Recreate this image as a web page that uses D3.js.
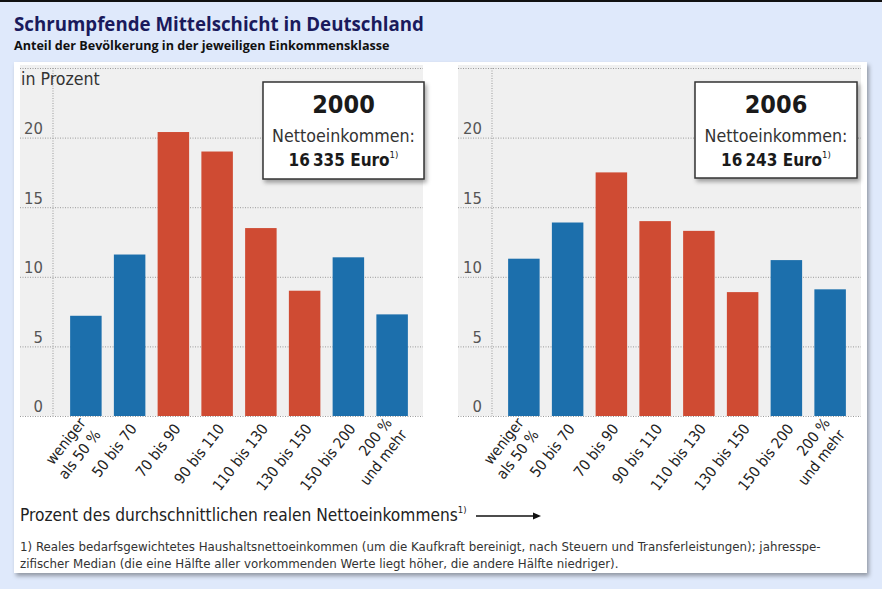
<!DOCTYPE html>
<html>
<head>
<meta charset="utf-8">
<script src="https://cdn.jsdelivr.net/npm/d3@7"></script>
<style>
  body { margin: 0; background: #dfe9fb; }
  svg { display: block; }
  .cond { font-family: "DejaVu Sans Condensed", "Liberation Sans Narrow", sans-serif; }
</style>
</head>
<body>
<div id="chart"></div>
<script>
// Einkommensklassen (Prozent des durchschnittlichen realen Nettoeinkommens)
var categories = [["weniger", "als 50 %"], ["50 bis 70"], ["70 bis 90"], ["90 bis 110"],
                  ["110 bis 130"], ["130 bis 150"], ["150 bis 200"], ["200 %", "und mehr"]];
var middleClass = [false, false, true, true, true, true, false, false];
var values2000 = [7.2, 11.6, 20.4, 19.0, 13.5, 9.0, 11.4, 7.3];
var values2006 = [11.3, 13.9, 17.5, 14.0, 13.3, 8.9, 11.2, 9.1];
var years = ["2000", "2006"];
var incomes = ["16\u2009335", "16\u2009243"];
var yTicks = [0, 5, 10, 15, 20];

var W = 882, H = 589;
var blue = "#1c6fac", red = "#cf4b33";

var svg = d3.select("#chart").append("svg")
    .attr("width", W).attr("height", H);

var defs = svg.append("defs");
var f = defs.append("filter").attr("id", "shadow")
    .attr("x", "-5%").attr("y", "-5%").attr("width", "115%").attr("height", "115%");
f.append("feDropShadow").attr("dx", 2).attr("dy", 3).attr("stdDeviation", 2)
    .attr("flood-color", "#000").attr("flood-opacity", 0.35);

// hintergrund + oberer rand
svg.append("rect").attr("width", W).attr("height", H).attr("fill", "#dfe9fb");
svg.append("rect").attr("width", W).attr("height", 2).attr("fill", "#111");

// titel
svg.append("text").attr("x", 14).attr("y", 31)
    .attr("font-family", "'Open Sans', sans-serif").attr("font-weight", "bold")
    .attr("font-size", 18.7).attr("fill", "#1a1a5c")
    .text("Schrumpfende Mittelschicht in Deutschland");
svg.append("text").attr("x", 14).attr("y", 50)
    .attr("font-family", "'Open Sans', sans-serif").attr("font-weight", "bold")
    .attr("font-size", 12.6).attr("fill", "#111")
    .text("Anteil der Bevölkerung in der jeweiligen Einkommensklasse");

// weisses panel
svg.append("rect").attr("x", 14).attr("y", 62).attr("width", 853).attr("height", 511)
    .attr("fill", "#fff").attr("filter", "url(#shadow)");

var y = d3.scaleLinear().domain([0, 25]).range([416, 68]);

function drawPanel(opts) {
    var g = svg.append("g").attr("class", "cond");
    var x = d3.scaleBand().domain(d3.range(categories.length))
        .range([opts.x0, opts.x1]).paddingInner(0.28).paddingOuter(0.14);

    g.append("rect").attr("x", opts.bgL).attr("y", 65)
        .attr("width", opts.bgR - opts.bgL).attr("height", y(0) - 65)
        .attr("fill", "#f0f0f0");

    // gitterlinien
    g.selectAll("line.grid").data(yTicks.concat([25])).enter().append("line")
        .attr("class", "grid")
        .attr("x1", opts.bgL).attr("x2", opts.bgR)
        .attr("y1", function(d) { return y(d) + 0.5; })
        .attr("y2", function(d) { return y(d) + 0.5; })
        .attr("stroke", "#9a9a9a").attr("stroke-width", 1).attr("stroke-dasharray", "1,1.5");
    g.append("line").attr("x1", opts.axisX).attr("x2", opts.axisX)
        .attr("y1", y(25)).attr("y2", y(0))
        .attr("stroke", "#9a9a9a").attr("stroke-dasharray", "1,1.5");

    var axis = g.append("g").attr("transform", "translate(" + opts.labelX + ",0)")
        .call(d3.axisLeft(y).tickValues(yTicks).tickSize(0).tickPadding(0));
    axis.select(".domain").remove();
    axis.selectAll("text")
        .attr("font-family", "'DejaVu Sans Condensed', 'Liberation Sans Narrow', sans-serif")
        .attr("font-size", 16.5).attr("fill", "#555").attr("dy", "-0.25em");

    g.selectAll("rect.bar").data(opts.values).enter().append("rect")
        .attr("class", "bar")
        .attr("x", function(d, i) { return x(i); })
        .attr("width", x.bandwidth())
        .attr("y", function(d) { return y(d); })
        .attr("height", function(d) { return y(0) - y(d); })
        .attr("fill", function(d, i) { return middleClass[i] ? red : blue; });

    // x-beschriftung, gedreht
    var lbl = g.selectAll("g.xl").data(categories).enter().append("g")
        .attr("class", "xl")
        .attr("transform", function(d, i) {
            return "translate(" + (x(i) + x.bandwidth() / 2 + 4) + ",426) rotate(-52)";
        });
    lbl.each(function(d) {
        var t = d3.select(this).append("text")
            .attr("text-anchor", "end").attr("font-size", 15).attr("fill", "#222");
        var n = d.length;
        d.forEach(function(s, k) {
            t.append("tspan").attr("x", 0)
                .attr("y", (k - (n - 1) / 2) * 19 + 5)
                .text(s);
        });
    });

    // info box
    var b = g.append("g");
    b.append("rect").attr("x", opts.box[0]).attr("y", opts.box[1])
        .attr("width", opts.box[2]).attr("height", opts.box[3])
        .attr("fill", "#fff").attr("stroke", "#333").attr("stroke-width", 1.5)
        .attr("filter", "url(#shadow)");
    var cx = opts.box[0] + opts.box[2] / 2;
    b.append("text").attr("x", cx).attr("y", opts.box[1] + 31).attr("text-anchor", "middle")
        .attr("font-size", 25).attr("font-weight", "bold").attr("fill", "#1a1a1a").text(opts.year);
    b.append("text").attr("x", cx).attr("y", opts.box[1] + 60).attr("text-anchor", "middle")
        .attr("font-size", 17.7).attr("fill", "#333").text("Nettoeinkommen:");
    var e = b.append("text").attr("x", cx).attr("y", opts.box[1] + 84).attr("text-anchor", "middle")
        .attr("font-size", 17).attr("font-weight", "bold").attr("fill", "#1a1a1a");
    e.append("tspan").text(opts.income + " Euro");
    e.append("tspan").attr("font-size", 9.5).attr("font-weight", "normal")
        .attr("dy", -8).text("1)");
}

drawPanel({ values: values2000, year: years[0], income: incomes[0],
            x0: 64, x1: 414, bgL: 20, bgR: 423, axisX: 53, labelX: 43,
            box: [263, 82, 161, 97] });
drawPanel({ values: values2006, year: years[1], income: incomes[1],
            x0: 502, x1: 852, bgL: 458, bgR: 861, axisX: 492, labelX: 482,
            box: [695, 82, 162, 96] });

var notes = svg.append("g").attr("class", "cond");
notes.append("text").attr("x", 21).attr("y", 85).attr("font-size", 17.6).attr("fill", "#333")
    .text("in Prozent");

var xt = notes.append("text").attr("x", 20).attr("y", 521).attr("font-size", 17.2).attr("fill", "#222");
xt.append("tspan").text("Prozent des durchschnittlichen realen Nettoeinkommens");
xt.append("tspan").attr("font-size", 9.5).attr("dy", -8).text("1)");
notes.append("line").attr("x1", 476).attr("x2", 533).attr("y1", 516).attr("y2", 516)
    .attr("stroke", "#111").attr("stroke-width", 1.3);
notes.append("path").attr("d", "M533,512.5 L541,516 L533,519.5 Z").attr("fill", "#111");

var fn = notes.append("text").attr("font-size", 13.15).attr("fill", "#333");
fn.append("tspan").attr("x", 20).attr("y", 551)
    .text("1) Reales bedarfsgewichtetes Haushaltsnettoeinkommen (um die Kaufkraft bereinigt, nach Steuern und Transferleistungen); jahresspe-");
fn.append("tspan").attr("x", 20).attr("y", 568)
    .text("zifischer Median (die eine Hälfte aller vorkommenden Werte liegt höher, die andere Hälfte niedriger).");
</script>
</body>
</html>
